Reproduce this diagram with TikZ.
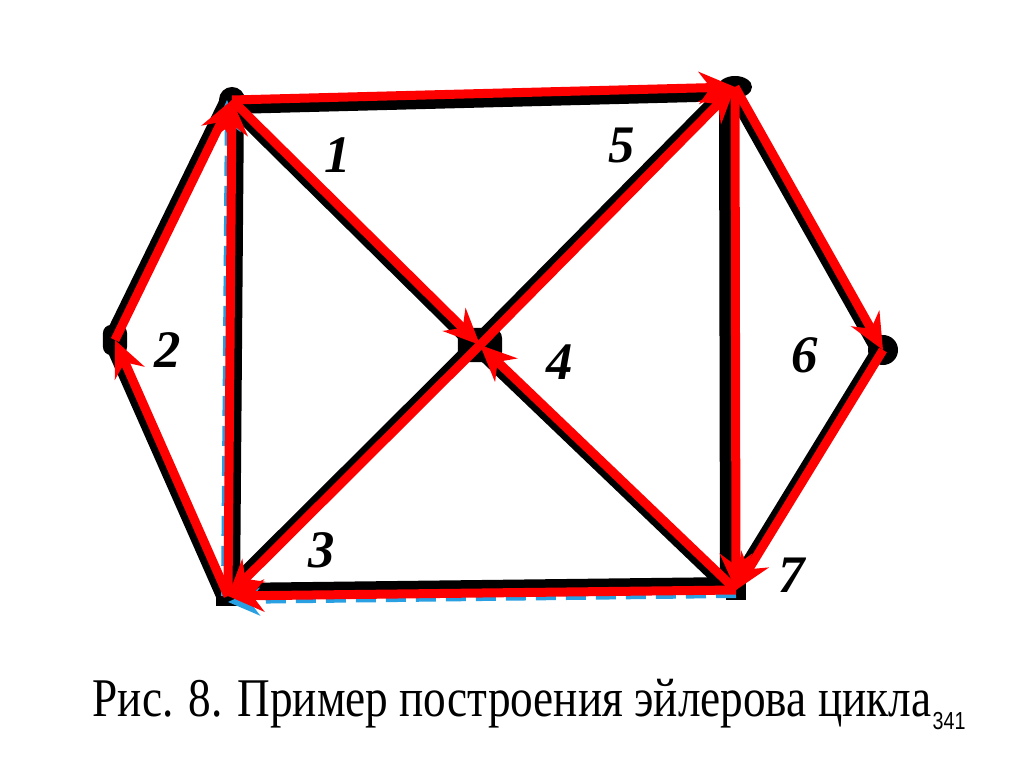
\documentclass[tikz,border=0pt]{standalone}
\usepackage{fontspec}
\usetikzlibrary{arrows.meta}
\usetikzlibrary{shapes.geometric}
\newfontfamily\capfont[FakeStretch=0.83]{Liberation Serif}
\newfontfamily\numfont{Liberation Serif}
\newfontfamily\pagefont[FakeStretch=0.8]{Liberation Sans}
\definecolor{walkred}{RGB}{255,0,0}
\definecolor{dashblue}{RGB}{40,160,225}
\tikzset{
	vert/.style={circle, fill=black, inner sep=0pt, minimum size=0.24cm},
	edge/.style={line width=0.12cm, black},
	walk/.style={line width=0.09cm, walkred, -{Stealth[length=0.36cm,width=0.32cm]}},
	trace/.style={line width=0.04cm, dashblue, dash pattern=on 0.2cm off 0.1cm, -{Stealth[length=0.32cm,width=0.28cm]}},
	nudge/.style={transform canvas={shift={#1}}},
	num/.style={font=\numfont\bfseries\itshape\fontsize{15}{18}\selectfont}
}

\begin{document}
\begin{tikzpicture}[x=0.01cm, y=-0.01cm]
					\useasboundingbox (0,0) rectangle (1024,767);

					% vertices
					\node[vert, minimum size=0.26cm] (v1) at (232,100) {};
					\node[vert, rectangle, rounded corners=0.08cm, minimum width=0.24cm, minimum height=0.3cm] (v2) at (115,340) {};
					\node[vert, rectangle, minimum width=0.24cm, minimum height=0.2cm] (v3) at (228,596) {};
					\node[vert, rectangle, rounded corners=0.1cm, minimum width=0.44cm, minimum height=0.34cm] (v4) at (480,345) {};
					\node[vert, ellipse, minimum width=0.34cm, minimum height=0.22cm] (v5) at (735,87) {};
					\node[vert, minimum size=0.3cm] (v6) at (883,350) {};
					\node[vert, rectangle, minimum width=0.2cm, minimum height=0.2cm] (v7) at (736,590) {};

					% the graph
					\draw[edge, nudge={(0,8)}] (v1.center) -- (v5.center);
					\draw[edge, nudge={(6,0)}] (v1.center) -- (v3.center);
					\draw[edge, nudge={(-5,-2)}] (v1.center) -- (v2.center);
					\draw[edge, nudge={(-3,4)}] (v1.center) -- (v4.center);
					\draw[edge, nudge={(-4,-3)}] (v4.center) -- (v5.center);
					\draw[edge, nudge={(-5,2)}] (v5.center) -- (v6.center);
					\draw[edge, nudge={(-10,0)}] (v5.center) -- (v7.center);
					\draw[edge, nudge={(-4,-2)}] (v6.center) -- (v7.center);
					\draw[edge, nudge={(0,-7)}] (v7.center) -- (v3.center);
					\draw[edge, nudge={(-4,3)}] (v7.center) -- (v4.center);
					\draw[edge, nudge={(-4,-3)}] (v4.center) -- (v3.center);
					\draw[edge, nudge={(-6,0)}] (v3.center) -- (v2.center);

					% first try, dashed
					\draw[trace, nudge={(-5,0)}] (v3.center) -- (v1.center);
					\draw[trace, nudge={(0,6)}] (v7.center) -- (v3.center);

					% euler cycle
					\draw[walk] (v1.center) -- (v5.center);
					\draw[walk] (v5.center) -- (v6.center);
					\draw[walk] (v6.center) -- (v7.center);
					\draw[walk] (v5.center) -- (v7.center);
					\draw[walk] (v7.center) -- (v3.center);
					\draw[walk] (v7.center) -- (v4.center);
					\draw[walk] (v4.center) -- (v5.center);
					\draw[walk] (v4.center) -- (v3.center);
					\draw[walk] (v3.center) -- (v2.center);
					\draw[walk] (v3.center) -- (v1.center);
					\draw[walk] (v2.center) -- (v1.center);
					\draw[walk] (v1.center) -- (v4.center);

					% numbers
					\node[num] (n1) at (338,155) {1};
					\node[num] (n2) at (168,350) {2};
					\node[num] (n3) at (322,550) {3};
					\node[num] (n4) at (560,362) {4};
					\node[num] (n5) at (622,145) {5};
					\node[num] (n6) at (805,355) {6};
					\node[num] (n7) at (792,575) {7};

					\node[anchor=base west, inner sep=0pt, font=\capfont\fontsize{15.5}{18}\selectfont] (cap) at (92,716)
					{Рис. 8. Пример построения эйлерова цикла};
					\node[anchor=base west, inner sep=0pt, font=\pagefont\fontsize{7}{8}\selectfont] (page) at (932,729) {341};
				\end{tikzpicture}
\end{document}
